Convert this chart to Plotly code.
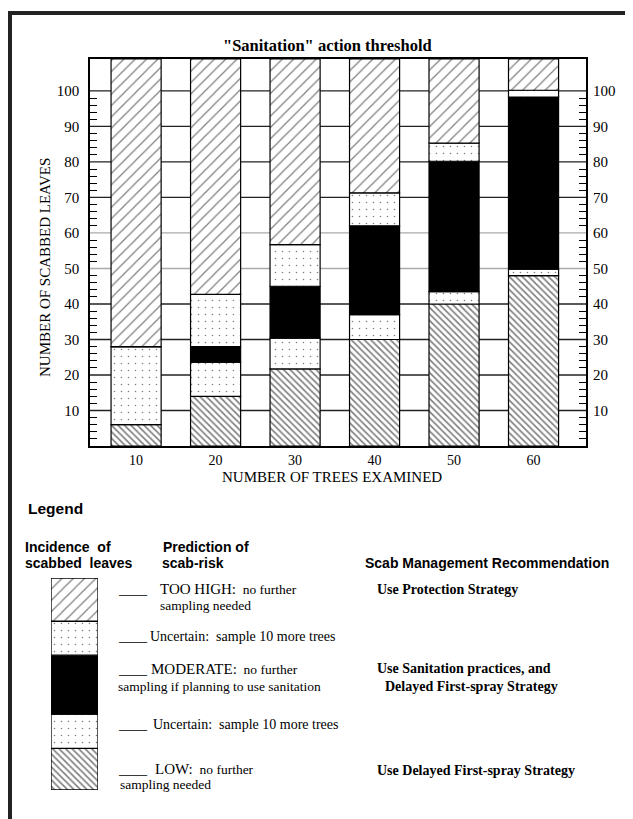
import plotly.graph_objects as go

# ---------------- data ----------------
trees = [10, 20, 30, 40, 50, 60]                      # number of trees examined
low_top = [6, 14, 21.7, 30, 40, 48]                   # upper edge of LOW zone
uncertain_low_top = [28, 23.6, 30.4, 37, 43.5, 49.8]  # upper edge of lower "uncertain" zone
moderate_top = [28, 28, 45, 62, 80.2, 98.3]           # upper edge of MODERATE zone
uncertain_high_top = [28, 42.7, 56.7, 71.3, 85.3, 100.2]  # upper edge of upper "uncertain" zone
too_high_top = [109, 109, 109, 109, 109, 109]         # TOO HIGH zone runs to the top of the scale
y_tick_vals = [10, 20, 30, 40, 50, 60, 70, 80, 90, 100]
light_grid_vals = [50, 60]

# ---------------- layout helpers ----------------
# the page is shown with an 8px body margin, so the figure is shifted by 8px
OFF = 8
W, H = 625, 811
def fx(px):
    return max(0.0, (px - OFF) / W)
def fy(py):
    return min(1.0, 1 - (py - OFF) / H)

SERIF = "Liberation Serif"
SANS = "Liberation Sans"

PAT_HIGH = dict(shape="/", size=8, solidity=0.15, fgcolor="black", bgcolor="white")
PAT_DOT = dict(shape=".", size=7, solidity=0.04, fgcolor="black", bgcolor="white")
PAT_LOW = dict(shape="\\", size=4.6, solidity=0.36, fgcolor="black", bgcolor="white")

zones = [
    ("LOW", [0] * 6, low_top, dict(color="white", pattern=PAT_LOW)),
    ("Uncertain", low_top, uncertain_low_top, dict(color="white", pattern=PAT_DOT)),
    ("MODERATE", uncertain_low_top, moderate_top, dict(color="black")),
    ("Uncertain", moderate_top, uncertain_high_top, dict(color="white", pattern=PAT_DOT)),
    ("TOO HIGH", uncertain_high_top, too_high_top, dict(color="white", pattern=PAT_HIGH)),
]

fig = go.Figure()
for name, lo, hi, mk in zones:
    fig.add_trace(go.Bar(
        x=trees, y=[h - l for l, h in zip(lo, hi)], base=lo, name=name,
        width=6.3, marker=dict(**mk, line=dict(color="black", width=1.2)),
        xaxis="x", yaxis="y", hoverinfo="skip",
    ))

# invisible companion trace so the right-hand value axis is drawn
fig.add_trace(go.Scatter(x=trees, y=low_top, xaxis="x", yaxis="y3", mode="markers",
                         marker=dict(opacity=0), hoverinfo="skip"))

# legend key (single stacked column)
key_heights = [41.7, 34.3, 59, 34, 43.3]
acc = 0
for (name, lo, hi, mk), h in zip(zones, key_heights):
    fig.add_trace(go.Bar(
        x=[0], y=[h], base=[acc], width=1,
        marker=dict(**mk, line=dict(color="black", width=1.3)),
        xaxis="x2", yaxis="y2", hoverinfo="skip",
    ))
    acc += h

minor_vals = [v for v in range(2, 100, 2) if v % 10 != 0]
tickfont = dict(family=SERIF, size=15, color="black")
yax_labels = dict(
    range=[0, 109], tickmode="array", tickvals=y_tick_vals,
    ticktext=[str(v) for v in y_tick_vals], tickfont=tickfont,
    ticks="", ticklabelstandoff=6, showgrid=False, zeroline=False,
    minor=dict(tickmode="array", tickvals=minor_vals, ticks="inside",
               ticklen=7, tickwidth=1, tickcolor="black", showgrid=False),
    fixedrange=True,
)

fig.update_layout(
    width=W, height=H, autosize=False,
    margin=dict(l=0, r=0, t=0, b=0),
    paper_bgcolor="white", plot_bgcolor="white",
    barmode="overlay", showlegend=False,
    xaxis=dict(domain=[fx(90), fx(586)], range=[4.2, 66.6],
               tickmode="array", tickvals=trees, ticks="",
               tickfont=dict(family=SERIF, size=14, color="black"),
               showgrid=False, showline=True, linecolor="black", linewidth=1.5,
               mirror=True, zeroline=False, anchor="y", fixedrange=True),
    yaxis=dict(domain=[fy(446), fy(59)], anchor="x", showline=True,
               linecolor="black", linewidth=1.5, mirror=True, **yax_labels),
    yaxis3=dict(overlaying="y", side="right", anchor="x", showline=False, **yax_labels),
    xaxis2=dict(domain=[fx(51), fx(98)], range=[-0.5, 0.5], visible=False,
                anchor="y2", fixedrange=True),
    yaxis2=dict(domain=[fy(790), fy(578)], range=[0, sum(key_heights)],
                visible=False, anchor="x2", fixedrange=True),
)

# horizontal gridlines at each labelled value (drawn beneath the bars)
for v in y_tick_vals:
    fig.add_shape(type="line", xref="x domain", yref="y", x0=0, x1=1, y0=v, y1=v,
                  line=dict(color="#aaaaaa" if v in light_grid_vals else "#222222", width=1.3),
                  layer="below")

# page frame (top and left heavy rules)
fig.add_shape(type="rect", xref="paper", yref="paper", x0=fx(7), x1=1, y0=fy(15), y1=fy(11),
              fillcolor="#222", line=dict(width=0))
fig.add_shape(type="rect", xref="paper", yref="paper", x0=fx(7), x1=fx(12), y0=0, y1=fy(11),
              fillcolor="#222", line=dict(width=0))

def txt(x, y, text, size=14, family=SERIF, bold=False, xanchor="left", angle=0):
    if bold:
        text = "<b>" + text + "</b>"
    fig.add_annotation(xref="paper", yref="paper", x=fx(x), y=fy(y), text=text,
                       showarrow=False, xanchor=xanchor, yanchor="middle",
                       textangle=angle,
                       font=dict(family=family, size=size, color="black"))

# chart titles
txt(327, 45, "\"Sanitation\" action threshold", size=16.5, bold=True, xanchor="center")
txt(45, 268, "NUMBER OF SCABBED LEAVES", size=15, xanchor="center", angle=-90)
txt(332, 477, "NUMBER OF TREES EXAMINED", size=15, xanchor="center")

# legend texts
txt(26, 508, "Legend", size=15.5, family=SANS, bold=True)
txt(23, 547, "Incidence&nbsp; of", size=14, family=SANS, bold=True)
txt(23, 563, "scabbed&nbsp; leaves", size=14, family=SANS, bold=True)
txt(161, 547, "Prediction of", size=14, family=SANS, bold=True)
txt(160, 563, "scab-risk", size=14, family=SANS, bold=True)
txt(363, 563, "Scab Management Recommendation", size=14, family=SANS, bold=True)

CAP = '<span style="font-size:15px">{}</span>'
txt(116, 589, "____")
txt(158, 589, CAP.format("TOO HIGH:") + "&nbsp; no further", size=13.5)
txt(158, 605, "sampling needed", size=13.5)
txt(116, 636, "____")
txt(148, 636, "Uncertain:&nbsp; sample 10 more trees", size=14)
txt(116, 669, "____")
txt(149, 669, CAP.format("MODERATE:") + "&nbsp; no further", size=13.5)
txt(116, 686, "sampling if planning to use sanitation", size=13.5)
txt(116, 724, "____")
txt(151, 724, "Uncertain:&nbsp; sample 10 more trees", size=14)
txt(116, 769, "____")
txt(153, 769, CAP.format("LOW:") + "&nbsp; no further", size=13.5)
txt(118, 784, "sampling needed", size=13.5)

txt(375, 589, "Use Protection Strategy", size=14, bold=True)
txt(375, 668, "Use Sanitation practices, and", size=14, bold=True)
txt(383, 686, "Delayed First-spray Strategy", size=14, bold=True)
txt(375, 770, "Use Delayed First-spray Strategy", size=14, bold=True)

fig.write_html("out.html")
